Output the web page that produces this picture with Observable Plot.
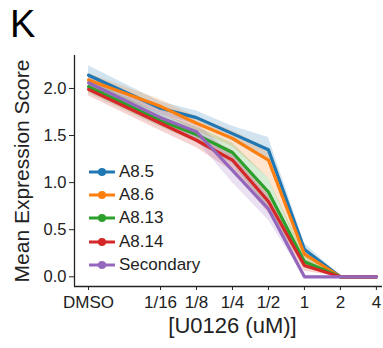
<!DOCTYPE html>
<html>
<head>
<meta charset="utf-8">
<script src="https://cdn.jsdelivr.net/npm/d3@7"></script>
<script src="https://cdn.jsdelivr.net/npm/@observablehq/plot@0.6"></script>
<style>
  html, body { margin: 0; padding: 0; background: #fff; }
  #wrap { position: relative; width: 383px; height: 348px; font-family: "Liberation Sans", Arial, sans-serif; }
  #panel { position: absolute; left: 10px; top: 3px; font-size: 38px; color: #000; }
  #legend { position: absolute; left: 88px; top: 160px; font-size: 17px; color: #222; }
  .item { height: 23.3px; display: flex; align-items: center; }
  .item svg { margin-right: 3px; }
</style>
</head>
<body>
<div id="wrap">
  <div id="chart"></div>
  <div id="panel">K</div>
  <div id="legend"></div>
</div>
<script>
// Dose categories (log2 position; DMSO placed two steps before 1/16)
const doseLabels = ["DMSO", "1/16", "1/8", "1/4", "1/2", "1", "2", "4"];
const dosePos    = [-6, -4, -3, -2, -1, 0, 1, 2];

const seriesNames  = ["A8.5", "A8.6", "A8.13", "A8.14", "Secondary"];
const seriesColors = ["#1f77b4", "#ff7f0e", "#2ca02c", "#d62728", "#9467bd"];

// Mean expression score per series
const meanA85  = [2.14, 1.79, 1.69, 1.52, 1.35, 0.29, 0, 0];
const meanA86  = [2.09, 1.81, 1.63, 1.47, 1.24, 0.24, 0, 0];
const meanA813 = [2.02, 1.66, 1.51, 1.32, 0.90, 0.16, 0, 0];
const meanA814 = [1.99, 1.63, 1.45, 1.24, 0.80, 0.12, 0, 0];
const meanSec  = [2.06, 1.69, 1.54, 1.13, 0.72, 0.00, 0, 0];

// Confidence band lower / upper
const loA85  = [2.06, 1.72, 1.62, 1.44, 1.22, 0.22, 0, 0];
const hiA85  = [2.24, 1.86, 1.76, 1.60, 1.48, 0.36, 0, 0];
const loA86  = [2.02, 1.74, 1.55, 1.38, 1.05, 0.17, 0, 0];
const hiA86  = [2.16, 1.88, 1.70, 1.55, 1.36, 0.32, 0, 0];
const loA813 = [1.95, 1.59, 1.43, 1.20, 0.72, 0.09, 0, 0];
const hiA813 = [2.09, 1.73, 1.59, 1.42, 1.05, 0.24, 0, 0];
const loA814 = [1.92, 1.55, 1.37, 1.12, 0.68, 0.06, 0, 0];
const hiA814 = [2.06, 1.71, 1.53, 1.34, 0.92, 0.18, 0, 0];
const loSec  = [1.98, 1.61, 1.45, 1.00, 0.60, 0.00, 0, 0];
const hiSec  = [2.14, 1.77, 1.63, 1.30, 0.85, 0.02, 0, 0];

const yTicks = [0, 0.5, 1, 1.5, 2];
const xDomain = [-6.39, 2.17];
const yDomain = [-0.103, 2.35];

const means = [meanA85, meanA86, meanA813, meanA814, meanSec];
const los = [loA85, loA86, loA813, loA814, loSec];
const his = [hiA85, hiA86, hiA813, hiA814, hiSec];

const rows = [];
seriesNames.forEach((s, i) => {
  dosePos.forEach((x, j) => {
    rows.push({series: s, x, y: means[i][j], lo: los[i][j], hi: his[i][j]});
  });
});

const font = '"Liberation Sans", Arial, sans-serif';

const chart = Plot.plot({
  width: 383,
  height: 348,
  marginLeft: 74,
  marginRight: 1,
  marginTop: 55,
  marginBottom: 62,
  style: {fontFamily: font, background: "#fff", color: "#222"},
  x: {domain: xDomain},
  y: {domain: yDomain},
  color: {domain: seriesNames, range: seriesColors},
  marks: [
    Plot.areaY(rows, {x: "x", y1: "lo", y2: "hi", z: "series", fill: "series", fillOpacity: 0.2}),
    Plot.lineY(rows, {x: "x", y: "y", z: "series", stroke: "series", strokeWidth: 3.2}),
    Plot.ruleX([xDomain[0]], {stroke: "#222", strokeWidth: 1.3}),
    Plot.ruleY([yDomain[0]], {stroke: "#222", strokeWidth: 1.3}),
    Plot.axisX({ticks: dosePos, tickFormat: (d) => doseLabels[dosePos.indexOf(d)], tickSize: 4, tickPadding: 5, fontSize: 17, label: null, fill: "#222"}),
    Plot.axisY({ticks: yTicks, tickFormat: (d) => d.toFixed(1), tickSize: 5, tickPadding: 3, fontSize: 16.5, label: null, fill: "#222"}),
    Plot.text(["Mean Expression Score"], {frameAnchor: "left", textAnchor: "middle", rotate: -90, dx: -52, fontSize: 21, fill: "#222"}),
    Plot.text(["[U0126 (uM)]"], {frameAnchor: "bottom", textAnchor: "middle", dy: 46, dx: 4, fontSize: 22, fill: "#222"})
  ]
});
document.getElementById("chart").appendChild(chart);

const legend = document.getElementById("legend");
seriesNames.forEach((s, i) => {
  const item = document.createElement("div");
  item.className = "item";
  item.innerHTML = `<svg width="28" height="12"><line x1="1" y1="6" x2="27" y2="6" stroke="${seriesColors[i]}" stroke-width="3"/><circle cx="14" cy="6" r="4" fill="${seriesColors[i]}"/></svg><span>${s}</span>`;
  legend.appendChild(item);
});
</script>
</body>
</html>
